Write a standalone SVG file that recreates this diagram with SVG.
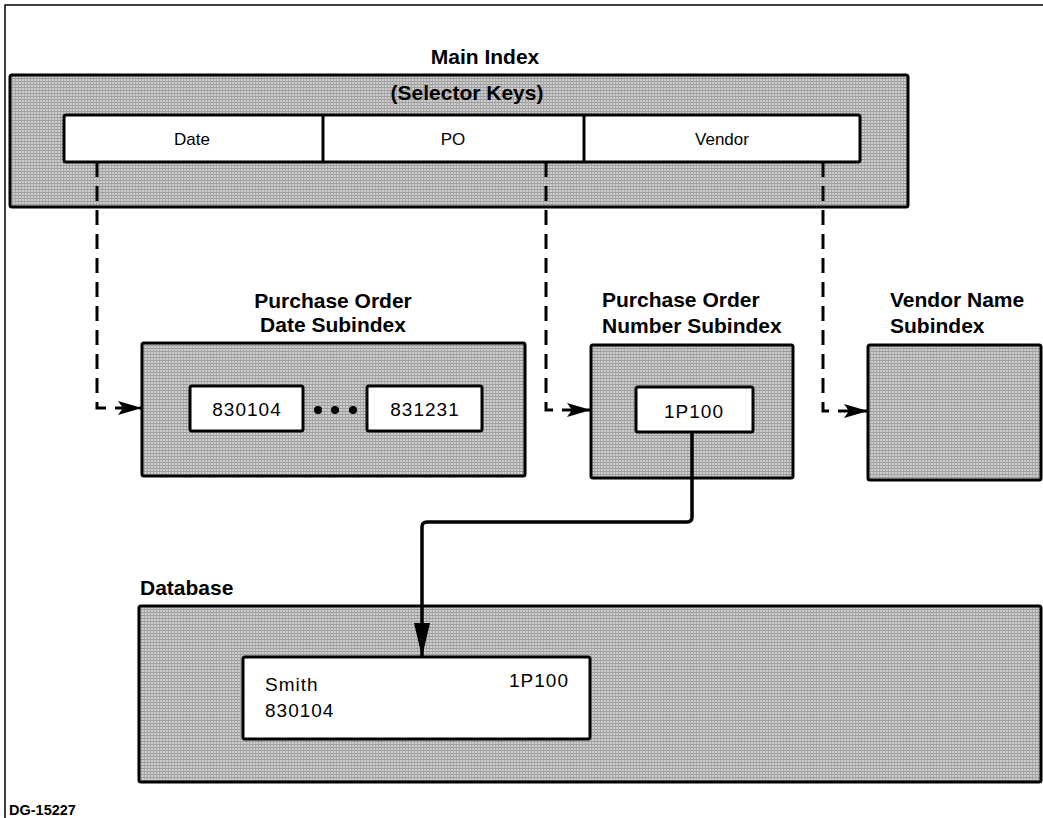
<svg xmlns="http://www.w3.org/2000/svg" width="1043" height="818" viewBox="0 0 1043 818">
<defs>
<pattern id="ht" width="3" height="3" patternUnits="userSpaceOnUse">
<rect width="3" height="3" fill="#cdcdcd"/>
<rect width="3" height="1" fill="#9a9a9a"/>
<rect width="1" height="3" fill="#a8a8a8"/>
</pattern>
<marker id="ah" viewBox="0 0 24 14" refX="23" refY="7" markerWidth="24" markerHeight="14" markerUnits="userSpaceOnUse" orient="auto">
<path d="M0,0 L24,7 L0,14 L5,7 Z" fill="#000"/>
</marker>
<marker id="ahb" viewBox="0 0 16 34" refX="8" refY="33" markerWidth="16" markerHeight="34" markerUnits="userSpaceOnUse" orient="0">
<path d="M0,0 L16,0 L8,34 Z" fill="#000"/>
</marker>
</defs>
<style>
.shade{fill:url(#ht);stroke:#000;stroke-width:3}
.white{fill:#fff;stroke:#000;stroke-width:3}
.ttl{font-family:"Liberation Sans",Arial,sans-serif;font-weight:bold;font-size:21px;fill:#000}
.lbl{font-family:"Liberation Sans",Arial,sans-serif;font-size:17px;fill:#000}
.num{font-family:"Liberation Sans",Arial,sans-serif;font-size:19px;letter-spacing:1px;fill:#000}
.dash{fill:none;stroke:#000;stroke-width:3;stroke-dasharray:15 9}
.solid{fill:none;stroke:#000;stroke-width:3.5;stroke-linejoin:round}
</style>
<g id="frame">
<path d="M5,818 V5 H1043" fill="none" stroke="#000" stroke-width="1.5"/>
</g>
<g id="main-index">
<text class="ttl" x="485" y="64" text-anchor="middle">Main Index</text>
<rect class="shade" x="10" y="75" width="898" height="132" rx="2"/>
<text class="ttl" x="467" y="100" text-anchor="middle">(Selector Keys)</text>
<rect class="white" x="64" y="115" width="796" height="47" rx="2"/>
<line x1="323" y1="115" x2="323" y2="162" stroke="#000" stroke-width="3"/>
<line x1="584" y1="115" x2="584" y2="162" stroke="#000" stroke-width="3"/>
<text class="lbl" x="192" y="145" text-anchor="middle">Date</text>
<text class="lbl" x="453" y="145" text-anchor="middle">PO</text>
<text class="lbl" x="722" y="145" text-anchor="middle">Vendor</text>
</g>
<g id="date-subindex">
<text class="ttl" x="333" y="308" text-anchor="middle">Purchase Order</text>
<text class="ttl" x="333" y="332" text-anchor="middle">Date Subindex</text>
<rect class="shade" x="142" y="343" width="383" height="133" rx="2"/>
<rect class="white" x="190" y="386" width="113" height="45" rx="2"/>
<text class="num" x="247" y="416" text-anchor="middle">830104</text>
<circle cx="318" cy="410" r="4"/>
<circle cx="335" cy="410" r="4"/>
<circle cx="353" cy="410" r="4"/>
<rect class="white" x="367" y="386" width="115" height="45" rx="2"/>
<text class="num" x="425" y="416" text-anchor="middle">831231</text>
</g>
<g id="po-subindex">
<text class="ttl" x="602" y="307">Purchase Order</text>
<text class="ttl" x="602" y="333">Number Subindex</text>
<rect class="shade" x="591" y="345" width="202" height="133" rx="2"/>
<rect class="white" x="636" y="387" width="117" height="45" rx="2"/>
<text class="num" x="694" y="418" text-anchor="middle">1P100</text>
</g>
<g id="vendor-subindex">
<text class="ttl" x="890" y="307">Vendor Name</text>
<text class="ttl" x="890" y="333">Subindex</text>
<rect class="shade" x="868" y="345" width="173" height="135" rx="2"/>
</g>
<g id="database">
<text class="ttl" x="140" y="595">Database</text>
<rect class="shade" x="139" y="606" width="902" height="176" rx="2"/>
<rect class="white" x="243" y="657" width="347" height="82" rx="2"/>
<text class="num" x="265" y="691" letter-spacing="0">Smith</text>
<text class="num" x="265" y="717">830104</text>
<text class="num" x="569" y="687" text-anchor="end">1P100</text>
</g>
<g id="connectors">
<path class="dash" d="M97,162 V408 H141" marker-end="url(#ah)"/>
<path class="dash" d="M546,162 V410 H590" marker-end="url(#ah)"/>
<path class="dash" d="M823,162 V411 H867" marker-end="url(#ah)"/>
<path class="solid" d="M692,432 V517 Q692,522 687,522 H427 Q422,522 422,527 V656" marker-end="url(#ahb)"/>
</g>
<g id="footer">
<text x="9" y="815" font-family="'Liberation Sans',Arial,sans-serif" font-weight="bold" font-size="14.5">DG-15227</text>
</g>
</svg>
